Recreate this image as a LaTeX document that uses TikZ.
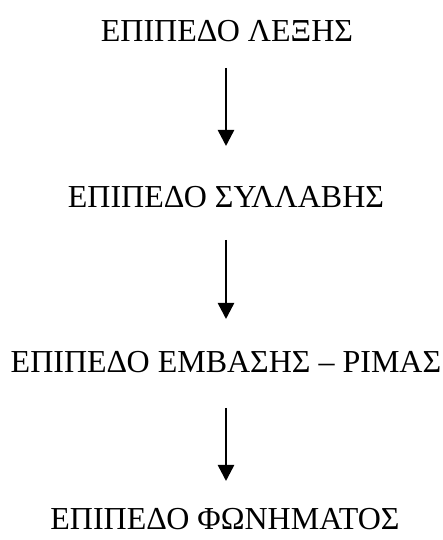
\documentclass[tikz,border=0pt]{standalone}
\usepackage{fontspec}
\setmainfont{Liberation Serif}
\usetikzlibrary{arrows.meta}
\begin{document}
\begin{tikzpicture}[x=1pt,y=1pt,
  level/.style={anchor=base,inner sep=0pt,font=\fontsize{32}{38}\selectfont},
  arr/.style={line width=2.5pt,-{Triangle[width=16pt,length=16pt]}}]
\useasboundingbox (0,0) rectangle (442,540);
% the four levels, placed by baseline
\node[level] (t1) at (227,498) {ΕΠΙΠΕΔΟ ΛΕΞΗΣ};
\node[level] (t2) at (226,332) {ΕΠΙΠΕΔΟ ΣΥΛΛΑΒΗΣ};
\node[level] (t3) at (226,167) {ΕΠΙΠΕΔΟ ΕΜΒΑΣΗΣ – ΡΙΜΑΣ};
\node[level] (t4) at (225,10) {ΕΠΙΠΕΔΟ ΦΩΝΗΜΑΤΟΣ};
% vertical axis of the arrows
\coordinate (ax) at (226,0);
\draw[arr] ([yshift=-26pt]t1.base -| ax) -- ([yshift=62pt]t2.base -| ax);
\draw[arr] ([yshift=-32pt]t2.base -| ax) -- ([yshift=54pt]t3.base -| ax);
\draw[arr] ([yshift=-35pt]t3.base -| ax) -- ([yshift=49pt]t4.base -| ax);
\end{tikzpicture}
\end{document}
